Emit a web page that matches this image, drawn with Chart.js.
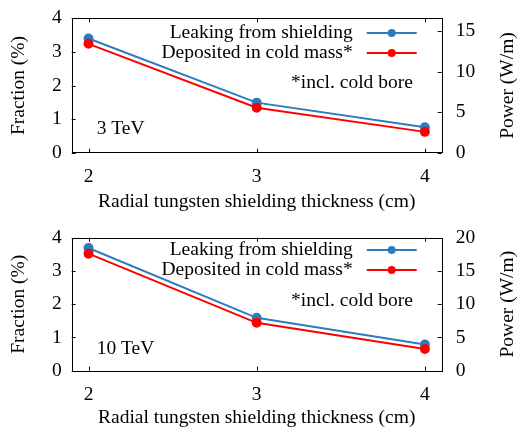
<!DOCTYPE html>
<html><head><meta charset="utf-8">
<script src="https://cdn.jsdelivr.net/npm/chart.js@4"></script>
<style>
html,body{margin:0;padding:0;background:#fff;width:518px;height:431px;overflow:hidden}
canvas{position:absolute;left:0}
</style></head><body>
<canvas id="c1" width="518" height="215" style="top:0"></canvas>
<canvas id="c2" width="518" height="216" style="top:215px"></canvas>
<script>
// ---- data ----
const thickness = [2, 3, 4];
const thicknessTicks = [2, 3, 4];
const fractionTicks = [0, 1, 2, 3, 4];
const leaking3TeV = [3.40, 1.49, 0.76];
const deposited3TeV = [3.24, 1.34, 0.62];
const leaking10TeV = [3.69, 1.59, 0.79];
const deposited10TeV = [3.52, 1.44, 0.65];
const powerTicks3TeV = [0, 5, 10, 15];
const powerTicks10TeV = [0, 5, 10, 15, 20];
const powerMax3TeV = 16.6;
const powerMax10TeV = 20;
const seriesLabels = ['Leaking from shielding', 'Deposited in cold mass*'];
const energyLabels = ['3 TeV', '10 TeV'];
const noteLabel = '*incl. cold bore';
const xTitle = 'Radial tungsten shielding thickness (cm)';
const yTitle = 'Fraction (%)';
const y2Title = 'Power (W/m)';

// ---- styling ----
const FONT = 'Liberation Serif';
const FS = 19.5;
const BLUE = '#2c7dbf';
const RED = '#ff0000';

const framePlugin = {
  id: 'frame',
  afterDraw(chart) {
    const o = chart.options.plugins.frame;
    const ctx = chart.ctx;
    const a = chart.chartArea;
    ctx.save();
    ctx.strokeStyle = '#000';
    ctx.lineWidth = 1;
    ctx.strokeRect(Math.round(a.left) + 0.5, Math.round(a.top) + 0.5,
      Math.round(a.right - a.left), Math.round(a.bottom - a.top));
    const tl = 4;
    ctx.beginPath();
    const xs = chart.scales.x;
    xs.ticks.forEach(t => {
      const p = Math.round(xs.getPixelForValue(t.value)) + 0.5;
      ctx.moveTo(p, a.bottom); ctx.lineTo(p, a.bottom - tl);
      ctx.moveTo(p, a.top); ctx.lineTo(p, a.top + tl);
    });
    const ys = chart.scales.y;
    ys.ticks.forEach(t => {
      const p = Math.round(ys.getPixelForValue(t.value)) + 0.5;
      ctx.moveTo(a.left, p); ctx.lineTo(a.left + tl, p);
    });
    const y2 = chart.scales.y2;
    y2.ticks.forEach(t => {
      const p = Math.round(y2.getPixelForValue(t.value)) + 0.5;
      ctx.moveTo(a.right, p); ctx.lineTo(a.right - tl, p);
    });
    ctx.stroke();

    ctx.fillStyle = '#000';
    ctx.font = FS + 'px "' + FONT + '"';
    ctx.textBaseline = 'middle';
    // legend
    chart.data.datasets.forEach((ds, i) => {
      const y = a.top + o.legendY[i];
      ctx.textAlign = 'right';
      ctx.fillStyle = '#000';
      ctx.fillText(ds.label, o.legendTextRight, y);
      ctx.strokeStyle = ds.borderColor;
      ctx.lineWidth = 2;
      ctx.beginPath();
      ctx.moveTo(o.legendLine[0], y); ctx.lineTo(o.legendLine[1], y);
      ctx.stroke();
      ctx.fillStyle = ds.borderColor;
      ctx.beginPath();
      ctx.arc((o.legendLine[0] + o.legendLine[1]) / 2, y, 4, 0, Math.PI * 2);
      ctx.fill();
    });
    ctx.fillStyle = '#000';
    ctx.textAlign = 'left';
    ctx.fillText(o.note, o.noteX, a.top + o.noteY);
    ctx.fillText(o.energy, o.energyX, a.top + o.energyY);
    // right axis title (reads bottom-to-top)
    ctx.save();
    ctx.translate(o.y2TitleX, (a.top + a.bottom) / 2);
    ctx.rotate(-Math.PI / 2);
    ctx.textAlign = 'center';
    ctx.fillText(y2Title, 0, 0);
    ctx.restore();
    ctx.restore();
  }
};

function makeChart(id, leak, dep, powerTicks, powerMax, energy, lay) {
  const tickFont = { family: FONT, size: FS };
  return new Chart(document.getElementById(id), {
    type: 'line',
    data: {
      datasets: [
        { label: seriesLabels[0], data: thickness.map((x, i) => ({ x, y: leak[i] })),
          borderColor: BLUE, backgroundColor: BLUE, pointBackgroundColor: BLUE, pointBorderColor: BLUE,
          borderWidth: 2, pointRadius: 4, tension: 0, order: 1 },
        { label: seriesLabels[1], data: thickness.map((x, i) => ({ x, y: dep[i] })),
          borderColor: RED, backgroundColor: RED, pointBackgroundColor: RED, pointBorderColor: RED,
          borderWidth: 2, pointRadius: 4, tension: 0, order: 0 }
      ]
    },
    options: {
      responsive: false, animation: false,
      layout: { padding: { top: lay.top, left: 0, right: 0, bottom: 0 } },
      plugins: {
        legend: { display: false }, tooltip: { enabled: false },
        frame: {
          legendY: lay.legendY, legendTextRight: 352.7, legendLine: [366.7, 416.7],
          note: noteLabel, noteX: 291, noteY: lay.noteY,
          energy: energy, energyX: 96.7, energyY: lay.energyY,
          y2TitleX: 507.5
        }
      },
      scales: {
        x: {
          type: 'linear', min: 1.9, max: 4.1,
          afterBuildTicks: s => { s.ticks = thicknessTicks.map(v => ({ value: v })); },
          afterFit: s => { s.height = lay.xh; },
          grid: { display: false, drawTicks: true, tickLength: 12 }, border: { display: false },
          ticks: { font: tickFont, color: '#000', padding: 0, maxRotation: 0 },
          title: { display: true, text: xTitle, font: tickFont, color: '#000', padding: { top: 0, bottom: 1 } }
        },
        y: {
          type: 'linear', position: 'left', min: 0, max: 4,
          afterBuildTicks: s => { s.ticks = fractionTicks.map(v => ({ value: v })); },
          afterFit: s => { s.width = 71.7; },
          grid: { display: false, drawTicks: true, tickLength: 10 }, border: { display: false },
          ticks: { font: tickFont, color: '#000', padding: 0 },
          title: { display: true, text: yTitle, font: tickFont, color: '#000', padding: { top: 7, bottom: 0 } }
        },
        y2: {
          type: 'linear', position: 'right', min: 0, max: powerMax,
          afterBuildTicks: s => { s.ticks = powerTicks.map(v => ({ value: v })); },
          afterFit: s => { s.width = 76.3; },
          grid: { display: false, drawTicks: true, tickLength: 14 }, border: { display: false },
          ticks: { font: tickFont, color: '#000', padding: 0 }
        }
      }
    },
    plugins: [framePlugin]
  });
}

makeChart('c1', leaking3TeV, deposited3TeV, powerTicks3TeV, powerMax3TeV, energyLabels[0],
  { top: 18.3, xh: 62.3, legendY: [14.7, 34.7], noteY: 64.7, energyY: 111 });
makeChart('c2', leaking10TeV, deposited10TeV, powerTicks10TeV, powerMax10TeV, energyLabels[1],
  { top: 22.7, xh: 60.3, legendY: [12.3, 32.3], noteY: 63.3, energyY: 110.7 });
</script>
</body></html>
